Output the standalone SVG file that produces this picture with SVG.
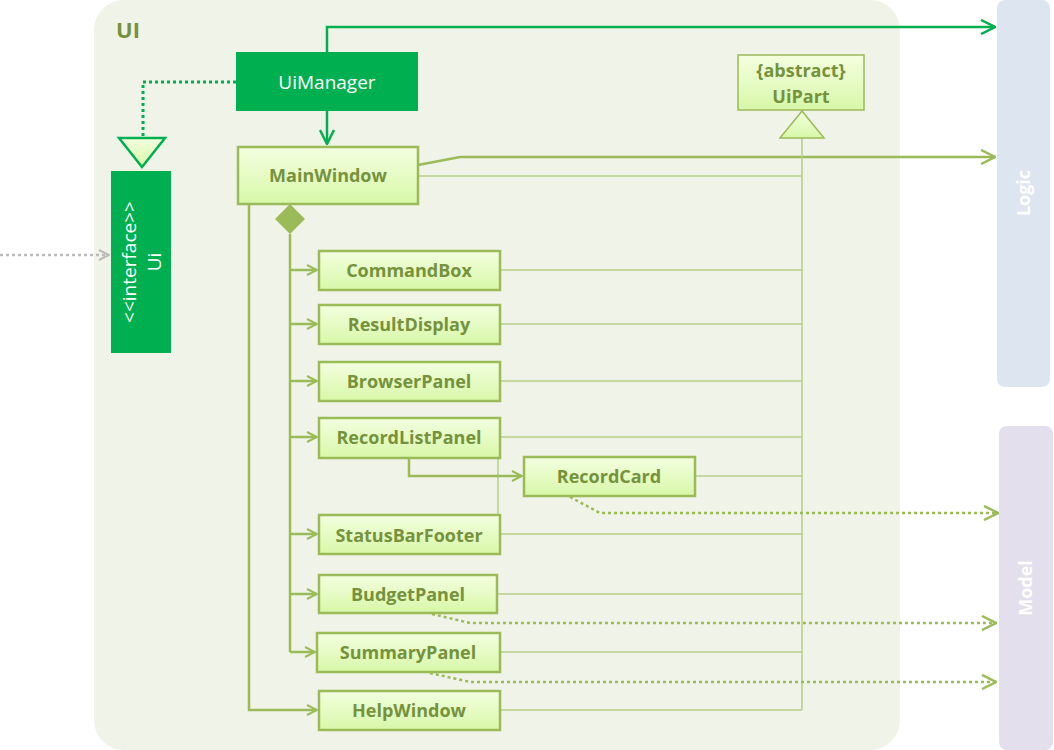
<svg xmlns="http://www.w3.org/2000/svg" width="1054" height="750" viewBox="0 0 1054 750">
<defs>
<linearGradient id="g" x1="0" y1="0" x2="0" y2="1"><stop offset="0" stop-color="#f3ffe0"/><stop offset="1" stop-color="#d8f7a8"/></linearGradient>
<marker id="ao" viewBox="0 0 12 12" refX="11" refY="6" markerWidth="12" markerHeight="12" markerUnits="userSpaceOnUse" orient="auto"><path d="M1,1 L11,6 L1,11" fill="none" stroke="#9bbb59" stroke-width="2"/></marker>
<marker id="ag" viewBox="0 0 16 16" refX="15" refY="8" markerWidth="16" markerHeight="16" markerUnits="userSpaceOnUse" orient="auto"><path d="M1,1 L15,8 L1,15" fill="none" stroke="#00b050" stroke-width="2.5"/></marker>
<marker id="al" viewBox="0 0 16 16" refX="15" refY="8" markerWidth="16" markerHeight="16" markerUnits="userSpaceOnUse" orient="auto"><path d="M1,1 L15,8 L1,15" fill="none" stroke="#9bbb59" stroke-width="2.5"/></marker>
<marker id="agr" viewBox="0 0 12 12" refX="11" refY="6" markerWidth="12" markerHeight="12" markerUnits="userSpaceOnUse" orient="auto"><path d="M1,1 L11,6 L1,11" fill="none" stroke="#bbbbbb" stroke-width="2"/></marker>
</defs>
<style>
.n{fill:url(#g);stroke:#9bbb59;stroke-width:2.5}
.t{font-family:"Open Sans","DejaVu Sans",sans-serif;font-weight:bold;font-size:18px;fill:#76923c;text-anchor:middle}
.w{font-family:"Open Sans","DejaVu Sans",sans-serif;font-size:19px;fill:#fff;text-anchor:middle}
.thin{stroke:#b5cf88;stroke-width:1.5;fill:none}
.a{stroke:#9bbb59;stroke-width:2.5;fill:none;marker-end:url(#ao)}
.d{stroke:#9bbb59;stroke-width:2.5;fill:none;stroke-dasharray:3 3;marker-end:url(#al)}
</style>
<g id="ui-container"><rect x="94" y="0" width="806" height="750" rx="30" fill="#f0f3e8"/><text x="128" y="38" font-family="Open Sans,DejaVu Sans,sans-serif" font-weight="bold" font-size="22" fill="#76923c" text-anchor="middle">UI</text></g>
<g id="logic"><rect x="997" y="0" width="53" height="387" rx="8" fill="#dde6f0"/><text transform="translate(1030,193) rotate(-90)" font-family="Open Sans,DejaVu Sans,sans-serif" font-weight="bold" font-size="18" fill="#fff" text-anchor="middle">Logic</text></g>
<g id="model"><rect x="999" y="426" width="54" height="324" rx="8" fill="#e4dfec"/><text transform="translate(1032,588) rotate(-90)" font-family="Open Sans,DejaVu Sans,sans-serif" font-weight="bold" font-size="18" fill="#fff" text-anchor="middle">Model</text></g>
<g id="connectors">
<path d="M327,52 V27 H995" stroke="#00b050" stroke-width="2.5" fill="none" marker-end="url(#ag)"/>
<path d="M327,111 V144" stroke="#00b050" stroke-width="2.5" fill="none" marker-end="url(#ag)"/>
<path d="M236,82 H143 V138" stroke="#00b050" stroke-width="3" stroke-dasharray="3 3" fill="none"/>
<polygon points="119,138 165,138 142,167" fill="url(#g)" stroke="#00b050" stroke-width="2.5"/>
<path d="M0,255 H109" stroke="#bbbbbb" stroke-width="2.5" stroke-dasharray="3 3" fill="none" marker-end="url(#agr)"/>
<path d="M418,165 L460,157 H995" stroke="#9bbb59" stroke-width="2.5" fill="none" marker-end="url(#al)"/>
<path d="M802,138 V710" class="thin" stroke-width="2"/>
<polygon points="802,111 780,138 824,138" fill="url(#g)" stroke="#9bbb59" stroke-width="1.5"/>
<path class="thin" d="M418,176 H802 M500,270 H802 M500,324 H802 M500,381 H802 M500,437 H802 M695,476 H802 M500,534 H802 M497,594 H802 M500,652 H802 M500,710 H802 M498,458 V515"/>
<polygon points="290,204 305,219 290,234 275,219" fill="#9bbb59"/>
<path d="M290,234 V652" stroke="#9bbb59" stroke-width="2.5" fill="none"/>
<path class="a" d="M290,270 H317"/><path class="a" d="M290,324 H317"/><path class="a" d="M290,381 H317"/><path class="a" d="M290,437 H317"/><path class="a" d="M290,534 H317"/><path class="a" d="M290,594 H317"/><path class="a" d="M290,652 H315"/>
<path class="a" d="M249,204 V710 H317"/>
<path class="a" d="M409,458 V476 H522"/>
<path class="d" d="M570,497 L600,513 H998"/>
<path class="d" d="M432,614 L470,623 H996"/>
<path class="d" d="M430,673 L470,682 H996"/>
</g>
<g id="UiManager"><rect x="236" y="52" width="182" height="59" fill="#00b050"/><text class="w" x="327" y="89">UiManager</text></g>
<g id="Ui"><rect x="111" y="171" width="60" height="182" fill="#00b050"/><text class="w" transform="translate(136,262) rotate(-90)">&lt;&lt;interface&gt;&gt;</text><text class="w" transform="translate(161,262) rotate(-90)">Ui</text></g>
<g id="MainWindow"><rect class="n" x="238" y="147" width="180" height="57"/><text class="t" x="328" y="182">MainWindow</text></g>
<g id="UiPart"><rect x="738" y="55" width="126" height="55" fill="url(#g)" stroke="#9bbb59" stroke-width="1.5"/><text class="t" x="801" y="77">{abstract}</text><text class="t" x="801" y="103">UiPart</text></g>
<g id="CommandBox"><rect class="n" x="319" y="251" width="181" height="39"/><text class="t" x="409" y="277">CommandBox</text></g>
<g id="ResultDisplay"><rect class="n" x="319" y="305" width="181" height="39"/><text class="t" x="409" y="331">ResultDisplay</text></g>
<g id="BrowserPanel"><rect class="n" x="319" y="362" width="181" height="39"/><text class="t" x="409" y="388">BrowserPanel</text></g>
<g id="RecordListPanel"><rect class="n" x="319" y="418" width="181" height="40"/><text class="t" x="409" y="444">RecordListPanel</text></g>
<g id="RecordCard"><rect class="n" x="524" y="457" width="171" height="39"/><text class="t" x="609" y="483">RecordCard</text></g>
<g id="StatusBarFooter"><rect class="n" x="319" y="515" width="181" height="39"/><text class="t" x="409" y="542">StatusBarFooter</text></g>
<g id="BudgetPanel"><rect class="n" x="319" y="575" width="178" height="38"/><text class="t" x="408" y="601">BudgetPanel</text></g>
<g id="SummaryPanel"><rect class="n" x="317" y="633" width="183" height="39"/><text class="t" x="408" y="659">SummaryPanel</text></g>
<g id="HelpWindow"><rect class="n" x="319" y="691" width="181" height="39"/><text class="t" x="409" y="717">HelpWindow</text></g>
</svg>
